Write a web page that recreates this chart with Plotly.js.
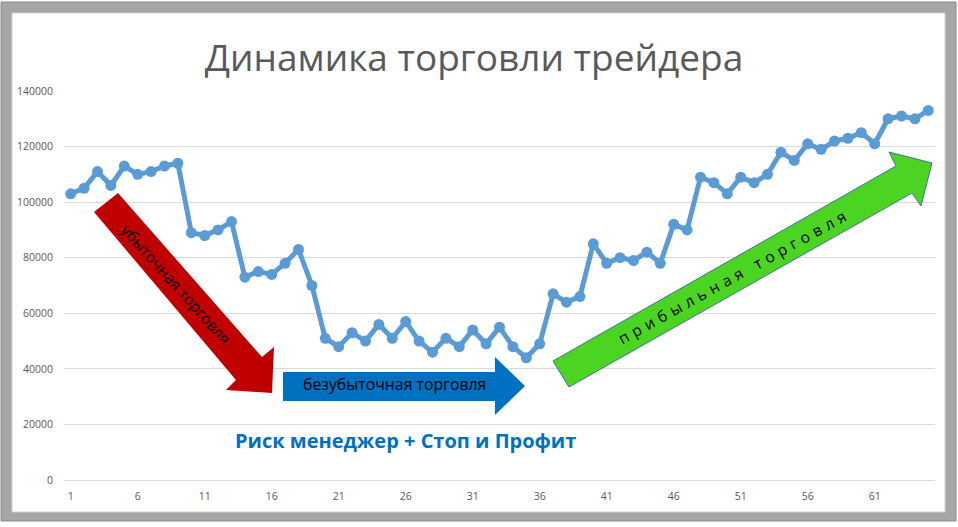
<!DOCTYPE html>
<html>
<head>
<meta charset="utf-8">
<script src="https://cdn.plot.ly/plotly-3.0.1.min.js"></script>
<style>
  html, body { margin: 0; padding: 0; background: #ffffff; }
  #chart { width: 958px; height: 527px; }
</style>
</head>
<body>
<div id="chart"></div>
<script>
// ---- data ----
const periods = [1,2,3,4,5,6,7,8,9,10,11,12,13,14,15,16,17,18,19,20,21,22,23,24,25,26,27,28,29,30,31,32,33,34,35,36,37,38,39,40,41,42,43,44,45,46,47,48,49,50,51,52,53,54,55,56,57,58,59,60,61,62,63,64,65];
const balance = [103000,105000,111000,106000,113000,110000,111000,113000,114000,89000,
                 88000,90000,93000,73000,75000,74000,78000,83000,70000,51000,
                 48000,53000,50000,56000,51000,57000,50000,46000,51000,48000,
                 54000,49000,55000,48000,44000,49000,67000,64000,66000,85000,
                 78000,80000,79000,82000,78000,92000,90000,109000,107000,103000,
                 109000,107000,110000,118000,115000,121000,119000,122000,123000,125000,
                 121000,130000,131000,130000,133000];
const xTickVals = [1,6,11,16,21,26,31,36,41,46,51,56,61];
const xTickText = ["1","6","11","16","21","26","31","36","41","46","51","56","61"];
const yTickVals = [0,20000,40000,60000,80000,100000,120000,140000];
const titleText = "Динамика торговли трейдера";
const lossText = "убыточная торговля";
const flatText = "безубыточная торговля";
const profitText = "прибыльная торговля";
const noteText = "Риск менеджер + Стоп и Профит";

// ---- layout geometry (pixels -> paper) ----
const L = 64, R = 935, T = 91, B = 480;
const X = p => (p - L) / (R - L);
const Y = p => (B - p) / (B - T);
const path = pts => 'M ' + pts.map(p => X(p[0]).toFixed(5) + ',' + Y(p[1]).toFixed(5)).join(' L ') + ' Z';

const FONT = '"Open Sans", "Noto Sans", sans-serif';

const shapes = [
  // frame
  {type:'rect', xref:'paper', yref:'paper', layer:'below',
   x0:X(1), x1:X(956), y0:Y(2), y1:Y(521),
   fillcolor:'#A6A6A6', line:{color:'#8A8A8A', width:1}},
  {type:'rect', xref:'paper', yref:'paper', layer:'below',
   x0:X(12), x1:X(945), y0:Y(13), y1:Y(512),
   fillcolor:'#FFFFFF', line:{color:'#D0D0D0', width:1}},
  // red arrow
  {type:'path', xref:'paper', yref:'paper', layer:'above',
   path: path([[94,212],[118,193],[262,357],[274,347],[272,393],[226,390],[236,380]]),
   fillcolor:'#C00000', line:{width:0}},
  // blue arrow
  {type:'path', xref:'paper', yref:'paper', layer:'above',
   path: path([[283,372],[495,372],[495,357],[525,386],[495,415],[495,401],[283,401]]),
   fillcolor:'#0070C0', line:{width:0}},
  // green arrow
  {type:'path', xref:'paper', yref:'paper', layer:'above',
   path: path([[553,361],[896,166],[889,152],[932,163],[921,206],[912,193],[569,387]]),
   fillcolor:'#4CD423', line:{color:'#41719C', width:1}}
];

const annotations = [
  {xref:'paper', yref:'paper', x:X(176), y:Y(284), xanchor:'center', yanchor:'middle',
   text: lossText, showarrow:false, textangle:48,
   font:{family:FONT, size:15.5, color:'#000000'}},
  {xref:'paper', yref:'paper', x:X(394), y:Y(384), xanchor:'center', yanchor:'middle',
   text: flatText, showarrow:false,
   font:{family:FONT, size:15.8, color:'#000000'}},
  {xref:'paper', yref:'paper', x:X(734), y:Y(276), xanchor:'center', yanchor:'middle',
   text: '<span style="letter-spacing:5px">' + profitText + '</span>', showarrow:false, textangle:-29,
   font:{family:FONT, size:15.5, color:'#000000'}},
  {xref:'paper', yref:'paper', x:X(405), y:Y(440), xanchor:'center', yanchor:'middle',
   text: '<b>' + noteText + '</b>', showarrow:false,
   font:{family:FONT, size:20, color:'#0070C0'}}
];

const trace = {
  x: periods, y: balance, type:'scatter', mode:'lines+markers',
  line:{color:'#5B9BD5', width:5},
  marker:{color:'#5B9BD5', size:11, line:{width:0}},
  hoverinfo:'skip'
};

const layout = {
  width:958, height:527,
  margin:{l:L, r:958-R, t:T, b:527-B, pad:0},
  paper_bgcolor:'#FFFFFF', plot_bgcolor:'rgba(0,0,0,0)',
  showlegend:false,
  title:{text:titleText, x:474/958, xref:'container', xanchor:'center',
         y:1-58/527, yref:'container', yanchor:'middle',
         font:{family:FONT, size:37, color:'#595959'}},
  xaxis:{range:[0.5,65.5], tickmode:'array', tickvals:xTickVals, ticktext:xTickText,
         showgrid:false, zeroline:false, showline:false, ticks:'',
         ticklabelstandoff:8,
         tickfont:{family:FONT, size:10.5, color:'#595959'}},
  yaxis:{range:[0,140000], tickmode:'array', tickvals:yTickVals, tickformat:'d',
         showgrid:true, gridcolor:'#D9D9D9', gridwidth:1,
         zeroline:true, zerolinecolor:'#D9D9D9', zerolinewidth:1, showline:false, ticks:'',
         ticklabelstandoff:10,
         tickfont:{family:FONT, size:10.5, color:'#595959'}},
  shapes: shapes,
  annotations: annotations
};

Plotly.newPlot('chart', [trace], layout, {staticPlot:true, displayModeBar:false});
</script>
</body>
</html>
